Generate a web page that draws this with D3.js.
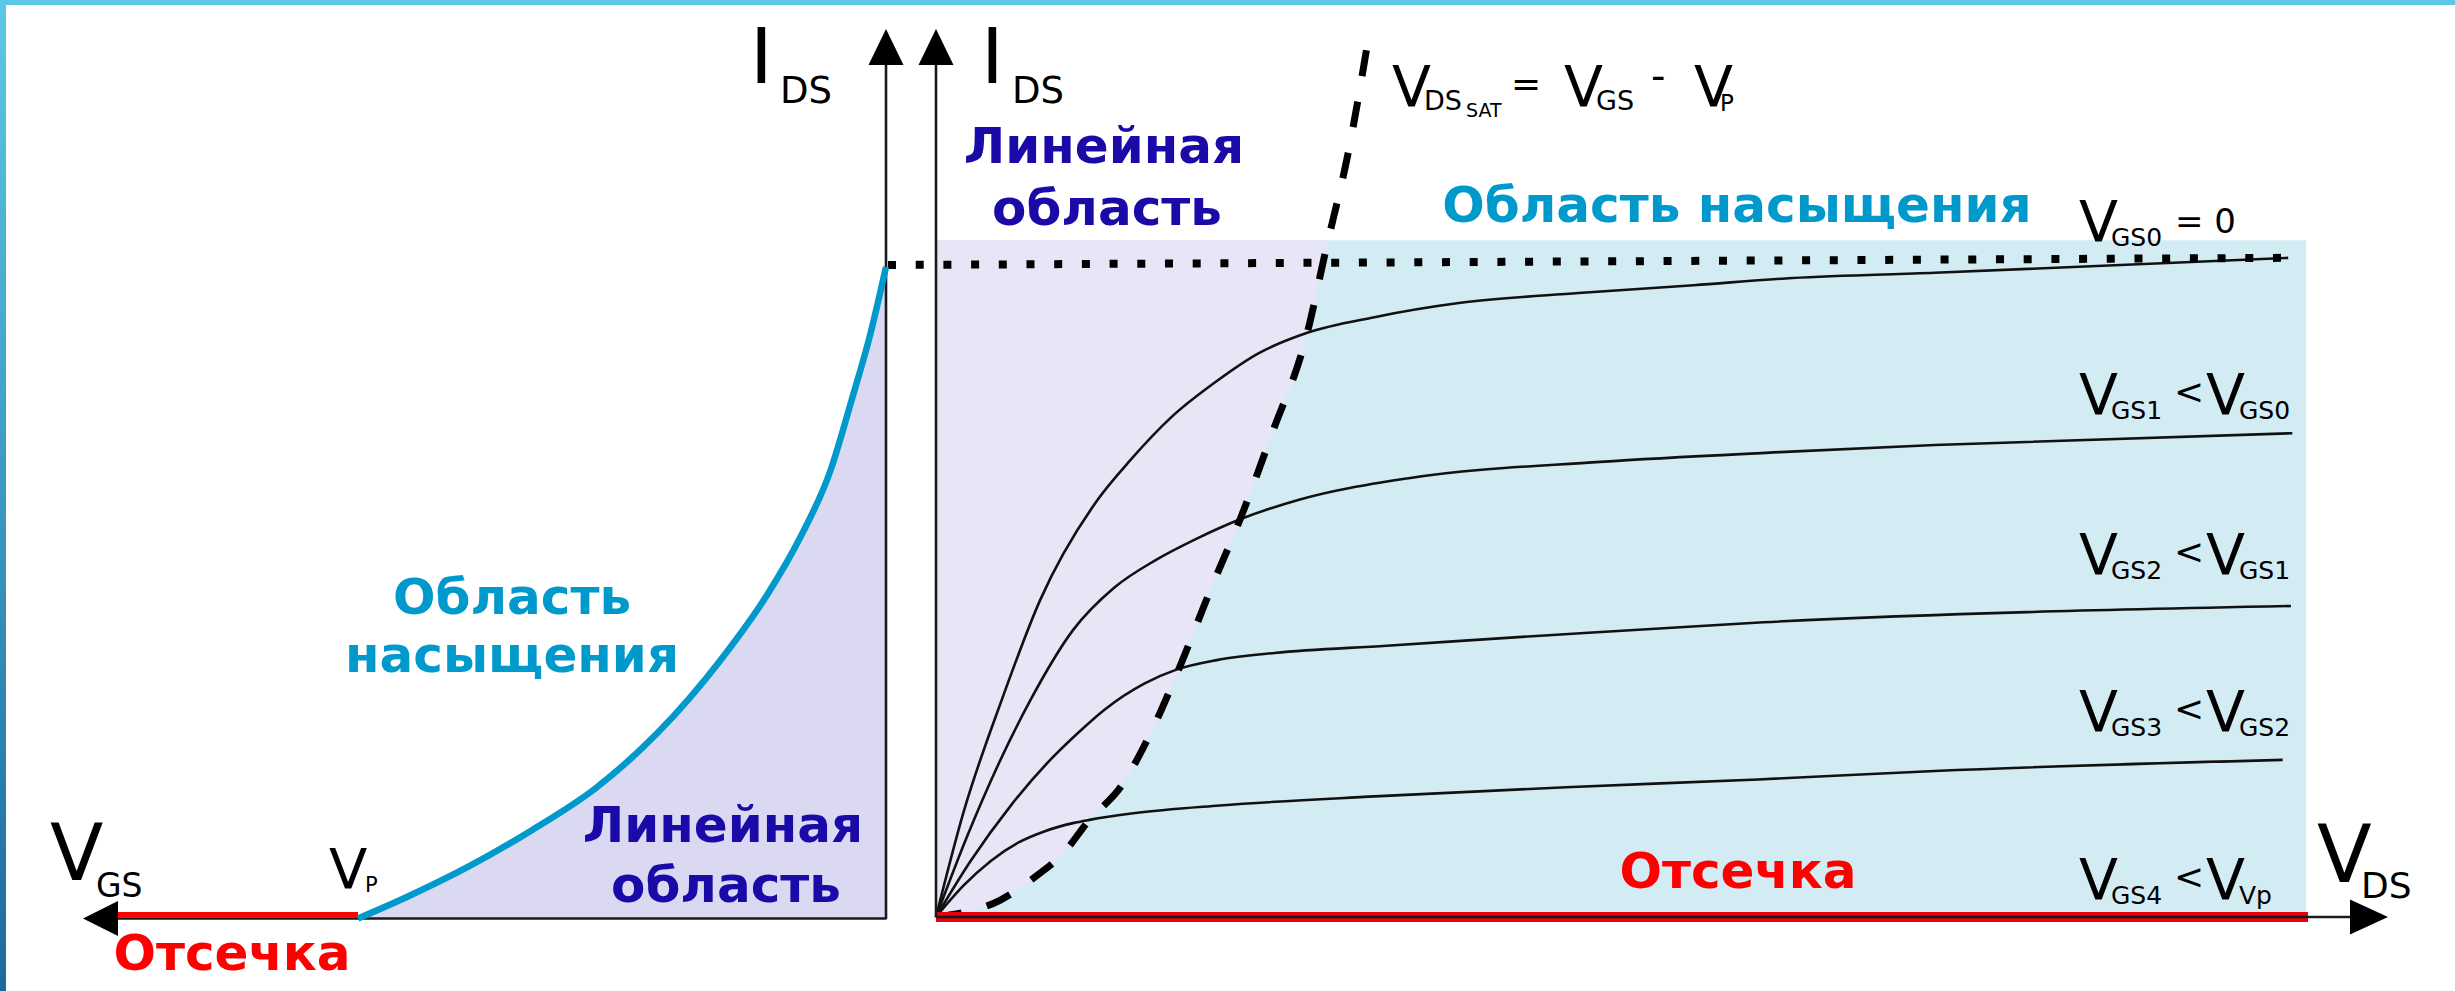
<!DOCTYPE html>
<html>
<head>
<meta charset="utf-8">
<script src="https://cdn.jsdelivr.net/npm/d3@7"></script>
<style>
  html, body { margin: 0; padding: 0; background: #fff; }
  svg { display: block; }
  text { font-family: "DejaVu Sans", "Liberation Sans", sans-serif; }
</style>
</head>
<body>
<svg id="chart" width="2455" height="991"></svg>
<script>
// ---- Output characteristics I_DS(V_DS), one series per gate voltage ----
const vgs0Vds = [0, 0.2, 0.48, 0.76, 1.18, 1.42, 1.72, 2.05, 2.35, 2.71, 3.20, 3.83, 4.69, 5.53, 6.25, 7.29, 9.87];
const vgs0Ids = [0, 1.6, 3.33, 4.86, 6.40, 7.01, 7.67, 8.22, 8.64, 8.96, 9.20, 9.42, 9.57, 9.69, 9.80, 9.88, 10.11];

const vgs1Vds = [0, 0.22, 0.69, 1.0, 1.3, 1.6, 1.9, 2.22, 2.65, 3.45, 4.85, 6.16, 7.29, 9.90];
const vgs1Ids = [0, 1.2, 3.33, 4.4, 5.05, 5.47, 5.8, 6.10, 6.40, 6.73, 6.98, 7.13, 7.24, 7.42];

const vgs2Vds = [0, 0.25, 0.55, 0.82, 1.05, 1.23, 1.52, 1.75, 2.05, 2.47, 3.29, 4.53, 6.04, 9.89];
const vgs2Ids = [0, 0.85, 1.72, 2.38, 2.85, 3.18, 3.58, 3.79, 3.94, 4.05, 4.16, 4.33, 4.52, 4.77];

const vgs3Vds = [0, 0.2, 0.4, 0.6, 0.8, 1.0, 1.12, 1.44, 2.07, 3.2, 4.6, 6.0, 7.29, 9.83];
const vgs3Ids = [0, 0.48, 0.86, 1.14, 1.32, 1.44, 1.49, 1.59, 1.71, 1.85, 1.99, 2.11, 2.24, 2.41];

// Saturation boundary V_DS_SAT = V_GS - V_P
const satVds = [0, 0.1, 0.47, 0.72, 0.93, 1.12, 1.35, 1.55, 1.77, 2.0, 2.22, 2.45, 2.71, 2.84, 3.02, 3.15];
const satIds = [0, 0.03, 0.26, 0.61, 0.98, 1.49, 2.0, 2.75, 3.79, 5.0, 6.1, 7.4, 8.96, 10.18, 11.84, 13.4];

// Transfer characteristic I_DS(V_GS), from V_P up to V_GS = 0
const transferVgs = [-4, -3.63, -3.15, -2.68, -2.20, -1.73, -1.26, -0.90, -0.66, -0.42, -0.26, -0.12, 0];
const transferIds = [0, 0.33, 0.81, 1.36, 2.00, 2.85, 3.95, 4.97, 5.81, 6.88, 7.96, 8.96, 10.0];

// I_DSS level (dotted)
const idssVds = [0, 9.87];
const idssIds = [10.0, 10.11];

// Axis extents
const vdsMax = 10;
const idsMax = 10;
const regionTop = 10.38;
const vpValue = -4;

// Curve labels (right side)
const curveMain = ["GS0", "GS1", "GS2", "GS3", "GS4"];
const curveRef = ["= 0", "GS0", "GS1", "GS2", "Vp"];

// ---- Layout ----
const W = 2455, H = 991;
const svg = d3.select("#chart");
svg.append("rect").attr("width", W).attr("height", H).attr("fill", "#fff");

const defs = svg.append("defs");
const grad = defs.append("linearGradient").attr("id", "edgeGrad")
  .attr("x1", 0).attr("y1", 0).attr("x2", 0).attr("y2", 1);
grad.append("stop").attr("offset", 0).attr("stop-color", "#5cc8e6");
grad.append("stop").attr("offset", 1).attr("stop-color", "#1c6a9c");

svg.append("rect").attr("x", 0).attr("y", 0).attr("width", 6).attr("height", H).attr("fill", "url(#edgeGrad)");
svg.append("rect").attr("x", 0).attr("y", 0).attr("width", W).attr("height", 5).attr("fill", "#5cc8e6");

// Scales
const xR = d3.scaleLinear().domain([0, vdsMax]).range([936, 2306]);
const yR = d3.scaleLinear().domain([0, idsMax]).range([917, 265]);
const xL = d3.scaleLinear().domain([vpValue, 0]).range([358, 886]);
const yL = d3.scaleLinear().domain([0, idsMax]).range([918.5, 267]);

const zip = (a, b) => a.map((v, i) => [v, b[i]]);

// ---- Right panel regions ----
svg.append("clipPath").attr("id", "regionClip")
  .append("rect")
  .attr("x", xR(0)).attr("y", yR(regionTop))
  .attr("width", xR(vdsMax) - xR(0)).attr("height", yR(0) - yR(regionTop));

svg.append("rect")
  .attr("x", xR(0)).attr("y", yR(regionTop))
  .attr("width", xR(vdsMax) - xR(0)).attr("height", yR(0) - yR(regionTop))
  .attr("fill", "#d3ecf3");

const lineR = d3.line().x(d => xR(d[0])).y(d => yR(d[1])).curve(d3.curveMonotoneX);
const satPts = zip(satVds, satIds);
const satPath = lineR(satPts);

svg.append("path")
  .attr("d", satPath + `L${xR(0)},${yR(satIds[satIds.length - 1])}Z`)
  .attr("fill", "#e7e5f6")
  .attr("clip-path", "url(#regionClip)");

// ---- Left panel region under transfer curve ----
const transferPts = zip(transferVgs, transferIds);
svg.append("path")
  .attr("d", d3.area().x(d => xL(d[0])).y0(yL(0)).y1(d => yL(d[1])).curve(d3.curveMonotoneX)(transferPts))
  .attr("fill", "#dbd9f2");

// ---- Output curves ----
const outSeries = [zip(vgs0Vds, vgs0Ids), zip(vgs1Vds, vgs1Ids), zip(vgs2Vds, vgs2Ids), zip(vgs3Vds, vgs3Ids)];
svg.append("g").selectAll("path").data(outSeries).join("path")
  .attr("d", lineR)
  .attr("fill", "none")
  .attr("stroke", "#111")
  .attr("stroke-width", 2.6);

// I_DSS dotted level across both panels
svg.append("line")
  .attr("x1", xL(0) + 2).attr("y1", yR(idssIds[0]))
  .attr("x2", xR(idssVds[1])).attr("y2", yR(idssIds[1]))
  .attr("stroke", "#000").attr("stroke-width", 8)
  .attr("stroke-dasharray", "8 19.7");

// Saturation boundary (dashed)
svg.append("path")
  .attr("d", satPath)
  .attr("fill", "none")
  .attr("stroke", "#000")
  .attr("stroke-width", 7)
  .attr("stroke-dasharray", "26 26");

// Cut-off lines (red)
svg.append("line")
  .attr("x1", xR(0)).attr("x2", xR(vdsMax) + 2)
  .attr("y1", yR(0)).attr("y2", yR(0))
  .attr("stroke", "#e8000b").attr("stroke-width", 10);
svg.append("line")
  .attr("x1", 118).attr("x2", xL(vpValue))
  .attr("y1", yL(0) - 4).attr("y2", yL(0) - 4)
  .attr("stroke", "#ff0000").attr("stroke-width", 5);

// ---- Axes (no ticks) ----
function axisLine(axisGen, transform) {
  const g = svg.append("g").attr("transform", transform).call(axisGen);
  g.select(".domain").attr("stroke", "#1a1a1a").attr("stroke-width", 2.6);
  return g;
}
axisLine(d3.axisBottom(d3.scaleLinear().range([xR(0), 2352])).tickValues([]).tickSizeOuter(0),
  `translate(0,${yR(0) - 0.5})`);
axisLine(d3.axisLeft(d3.scaleLinear().range([yR(0), 62])).tickValues([]).tickSizeOuter(0),
  `translate(${xR(0) - 0.5},0)`);
axisLine(d3.axisBottom(d3.scaleLinear().range([116, xL(0)])).tickValues([]).tickSizeOuter(0),
  `translate(0,${yL(0) - 0.5})`);
axisLine(d3.axisLeft(d3.scaleLinear().range([yL(0), 62])).tickValues([]).tickSizeOuter(0),
  `translate(${xL(0) - 0.5},0)`);

// Arrowheads
const arrows = [
  [[xL(0), 29], [xL(0) - 17.5, 65], [xL(0) + 17.5, 65]],
  [[xR(0), 29], [xR(0) - 17.5, 65], [xR(0) + 17.5, 65]],
  [[2388, yR(0)], [2350, yR(0) - 17.5], [2350, yR(0) + 17.5]],
  [[83, yL(0)], [118, yL(0) - 17.5], [118, yL(0) + 17.5]]
];
svg.append("g").selectAll("path").data(arrows).join("path")
  .attr("d", d => "M" + d.join("L") + "Z")
  .attr("fill", "#000");

// Transfer curve (drawn over the axes)
svg.append("path")
  .attr("d", d3.line().x(d => xL(d[0])).y(d => yL(d[1])).curve(d3.curveMonotoneX)(transferPts))
  .attr("fill", "none")
  .attr("stroke", "#0099cc")
  .attr("stroke-width", 6.5)
  .attr("stroke-linecap", "butt");

// ---- Text ----
function rich(pieces) {
  const g = svg.append("g");
  pieces.forEach(p => {
    g.append("text")
      .attr("x", p.x).attr("y", p.y)
      .attr("font-size", p.s)
      .attr("fill", "#000")
      .text(p.t);
  });
}

rich([{ t: "I", x: 750, y: 83, s: 77 }, { t: "DS", x: 780, y: 103, s: 37 }]);
rich([{ t: "I", x: 981, y: 83, s: 77 }, { t: "DS", x: 1012, y: 103, s: 37 }]);
rich([{ t: "V", x: 50, y: 880, s: 78 }, { t: "GS", x: 96, y: 897, s: 33 }]);
rich([{ t: "V", x: 329, y: 888, s: 56 }, { t: "P", x: 365, y: 892, s: 21 }]);
rich([{ t: "V", x: 2317, y: 882, s: 80 }, { t: "DS", x: 2361, y: 898, s: 36 }]);

rich([
  { t: "V", x: 1392, y: 107, s: 57 }, { t: "DS", x: 1424, y: 110, s: 27 }, { t: "SAT", x: 1466, y: 117, s: 19 },
  { t: "=", x: 1511, y: 96, s: 36 },
  { t: "V", x: 1564, y: 107, s: 57 }, { t: "GS", x: 1596, y: 110, s: 27 },
  { t: "-", x: 1651, y: 90, s: 40 },
  { t: "V", x: 1694, y: 107, s: 57 }, { t: "P", x: 1720, y: 111, s: 23 }
]);

const labelBaselines = [242, 415, 575, 732, 900];
curveMain.forEach((sub, i) => {
  const b = labelBaselines[i];
  const pieces = [{ t: "V", x: 2079, y: b, s: 57 }, { t: sub, x: 2111, y: b + 4, s: 25 }];
  if (i === 0) {
    pieces.push({ t: curveRef[i], x: 2175, y: b - 9, s: 34 });
  } else {
    pieces.push({ t: "<", x: 2174, y: b - 11, s: 36 });
    pieces.push({ t: "V", x: 2206, y: b, s: 57 });
    pieces.push({ t: curveRef[i], x: 2239, y: b + 4, s: 25 });
  }
  rich(pieces);
});

// Region names
const regionLabels = [
  { t: "Область", x: 512, y: 614, c: "#0099cc" },
  { t: "насыщения", x: 512, y: 672, c: "#0099cc" },
  { t: "Линейная", x: 723, y: 842, c: "#1a0aa8" },
  { t: "область", x: 726, y: 902, c: "#1a0aa8" },
  { t: "Отсечка", x: 232, y: 970, c: "#ff0000" },
  { t: "Линейная", x: 1104, y: 163, c: "#1a0aa8" },
  { t: "область", x: 1107, y: 225, c: "#1a0aa8" },
  { t: "Область насыщения", x: 1737, y: 222, c: "#0099cc" },
  { t: "Отсечка", x: 1738, y: 888, c: "#ff0000" }
];
svg.append("g").selectAll("text").data(regionLabels).join("text")
  .attr("x", d => d.x).attr("y", d => d.y)
  .attr("text-anchor", "middle")
  .attr("font-weight", "bold")
  .attr("font-size", 50)
  .attr("fill", d => d.c)
  .text(d => d.t);
</script>
</body>
</html>
